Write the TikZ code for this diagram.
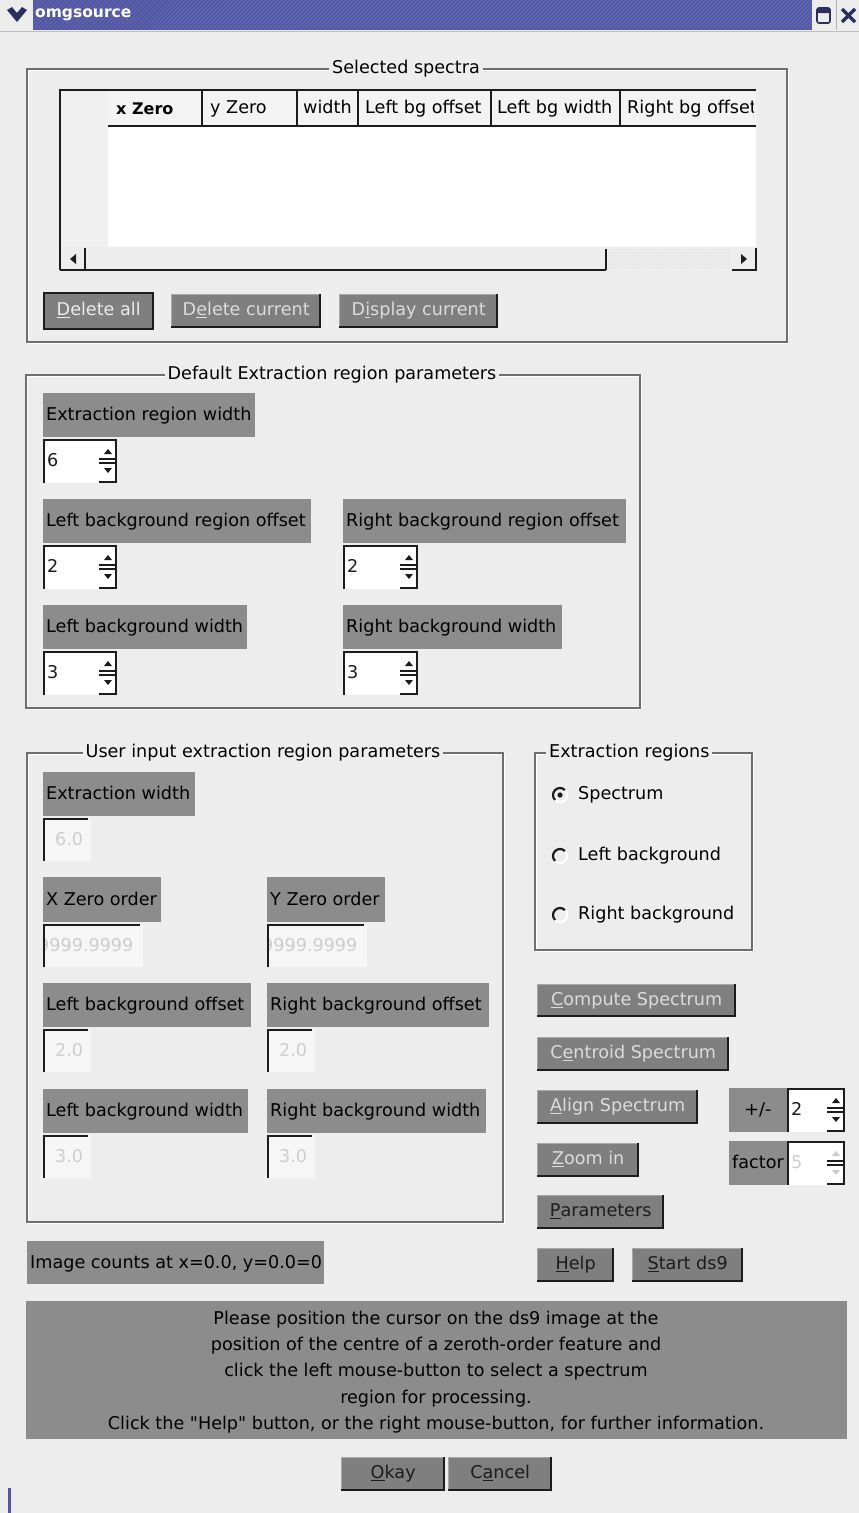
\documentclass[tikz,border=0pt]{standalone}
\usepackage{fontspec}
\setmainfont{DejaVu Sans}[Ligatures=TeXOff]
\usetikzlibrary{patterns}
\definecolor{bg}{HTML}{EDEDED}
\definecolor{lblgray}{HTML}{8C8C8C}
\definecolor{btngray}{HTML}{7F7F7F}
\definecolor{btnlight}{HTML}{A8A8A8}
\definecolor{framegray}{HTML}{6E6E6E}
\definecolor{titleblue}{HTML}{5257A4}
\definecolor{titlehatch}{HTML}{6A6FB6}
\definecolor{navy}{HTML}{2B2E5E}
\definecolor{tbside}{HTML}{ECECEC}
\definecolor{distxt}{HTML}{DCDCDC}
\definecolor{entryc}{HTML}{F6F6F6}
\definecolor{entrytxt}{HTML}{CDCDCD}
\definecolor{dark}{HTML}{1C1C1C}
\definecolor{hdrfill}{HTML}{F3F3F3}
\definecolor{rowhdr}{HTML}{F0F0F0}
\tikzset{
  lblbox/.style={fill=lblgray, inner sep=0pt, anchor=north west},
  btnbox/.style={fill=btngray, inner sep=0pt, anchor=north west, text height=13pt, text depth=4pt},
  txt/.style={inner sep=0pt, text height=13pt, text depth=4pt},
  framel/.style={draw=framegray, line width=1.3},
  frametitle/.style={fill=bg, inner xsep=3pt, inner ysep=0pt, text height=13pt, text depth=4pt},
}
\newcommand\mkLabel[6]{%
  \node[lblbox, minimum width={#4pt-#2pt}, minimum height={#5pt-#3pt}] (#1) at (#2,#3) {};
  \node[txt, anchor=west] (#1t) at ({#2+3},{(#3+#5)/2+1}) {#6};
}
\newcommand\mkBtn[7]{%
  \node[btnbox, minimum width={#4pt-#2pt}, minimum height={#5pt-#3pt}, text=#7] (#1) at (#2,#3) {#6};
  \draw[btnlight, line width=1.2] ({#2+0.6},{#5-1}) -- ({#2+0.6},{#3+0.6}) -- ({#4-1},{#3+0.6});
  \draw[dark, line width=2] ({#4-1},{#3}) -- ({#4-1},{#5-1}) -- ({#2},{#5-1});
}
\newcommand\mkSpin[8]{%
  \node[fill=white, inner sep=0pt, anchor=north west, minimum width={#4pt-#2pt}, minimum height={#5pt-#3pt}] (#1) at (#2,#3) {};
  \node[txt, anchor=west, text=#7] (#1v) at ({#2+4},{(#3+#5)/2+1}) {#6};
  \draw[dark, line width=2] ({#2+1},#5) -- ({#2+1},{#3+1}) -- (#4,{#3+1});
  \draw[dark, line width=1.6] ({#4-1},{#3+1}) -- ({#4-1},{#5-1}) -- ({#4-18},{#5-1});
  \draw[dark, line width=1.3] ({#4-18},{(#3+#5)/2-2}) -- ({#4-1},{(#3+#5)/2-2});
  \draw[dark, line width=1.3] ({#4-18},{(#3+#5)/2+2}) -- ({#4-1},{(#3+#5)/2+2});
  \fill[#8] ({#4-13},{(#3+#5)/2-7}) -- ({#4-5},{(#3+#5)/2-7}) -- ({#4-9},{(#3+#5)/2-12}) -- cycle;
  \fill[#8] ({#4-13},{(#3+#5)/2+7}) -- ({#4-5},{(#3+#5)/2+7}) -- ({#4-9},{(#3+#5)/2+12}) -- cycle;
}
\newcommand\mkEntry[7]{%
  \node[fill=entryc, inner sep=0pt, anchor=north west, minimum width={#4pt-#2pt}, minimum height={#5pt-#3pt}] (#1) at (#2,#3) {};
  \begin{scope}
    \clip (#2,#3) rectangle (#4,#5);
    \node[txt, anchor=west, text=entrytxt] (#1v) at (#7,{(#3+#5)/2+1}) {#6};
  \end{scope}
  \draw[dark, line width=2] ({#2+1},#5) -- ({#2+1},{#3+1}) -- ({#4-3},{#3+1});
}
\newcommand\mkFrame[8]{%
  \draw[white, line width=1] ({#2+1.3},{#3+1.3}) rectangle ({#4+1.3},{#5+1.3});
  \draw[framel] (#2,#3) rectangle (#4,#5);
  \node[frametitle, anchor=#8] (#1) at (#7,#3) {#6};
}
\newcommand\mkRadio[5]{%
  \coordinate (#1c) at (#2,#3);
  \draw[white, line width=2.2] ({#2-4.95},{#3+4.95}) arc[start angle=225, end angle=405, radius=7pt];
  \draw[dark, line width=2.2] ({#2+4.95},{#3-4.95}) arc[start angle=45, end angle=225, radius=7pt];
  \ifnum#5=1 \fill[dark] (#1c) circle[radius=2.6pt];\fi
  \node[txt, anchor=west] (#1) at ({#2+18},#3) {#4};
}
\begin{document}
\begin{tikzpicture}[x=1pt,y=-1pt,font=\fontsize{17.6}{26}\selectfont]
\useasboundingbox (0,0) rectangle (859,1513);
\fill[bg] (0,0) rectangle (859,1513);

% ---------- title bar
\fill[tbside] (0,0) rectangle (33,30);
\fill[titleblue] (33,0) rectangle (812,30);
\begin{scope}
  \clip (33,0) rectangle (812,30);
  \foreach \i in {0,4,...,840} \draw[titlehatch, line width=0.7] (\i,30) -- ({\i+30},0);
\end{scope}
\fill[tbside] (812,0) rectangle (859,30);
\draw[gray!60] (836,0) -- (836,30);
\draw[gray!50] (0,31) -- (859,31);
\fill[navy] (7,10) -- (12,7) -- (17,13) -- (22,7) -- (27,10) -- (17,22) -- cycle;
\node[anchor=west, text=white, inner sep=0pt, font=\bfseries\fontsize{15.5}{18}\selectfont] (ttl) at (35,15) {omgsource};
\draw[navy, line width=1.6, rounded corners=2] (817,8) rectangle (830,23);
\fill[navy, rounded corners=1] (817,8) rectangle (830,13);
\draw[navy, line width=3.2] (842,9) -- (855,22) (842,22) -- (855,9);

% ---------- Selected spectra
\mkFrame{fsel}{27}{69}{787}{342}{Selected spectra}{406}{center}
\fill[rowhdr] (59,89) rectangle (108,247);
\fill[hdrfill] (108,89) rectangle (756,126);
\fill[white] (108,126) rectangle (756,247);
\fill[bg] (59,247) rectangle (756,270);
\fill[pattern=dots, pattern color=gray!45] (606,248) rectangle (731,269);
\draw[dark, line width=2] (60,270) -- (60,90) -- (756,90);
\draw[dark, line width=1.8] (108,126) -- (756,126);
\foreach \sx in {202,297,358,491,620} \draw[dark, line width=1.8] (\sx,90) -- (\sx,126);
\node[txt, anchor=west, font=\bfseries\fontsize{16}{20}\selectfont] (hxz) at (116,110) {x Zero};
\node[txt, anchor=west] (hyz) at (210,109) {y Zero};
\node[txt, anchor=west] (hw) at (303,109) {width};
\node[txt, anchor=west] (hlbo) at (365,109) {Left bg offset};
\node[txt, anchor=west] (hlbw) at (497,109) {Left bg width};
\begin{scope}
  \clip (620,90) rectangle (753,126);
  \node[txt, anchor=west] (hrbo) at (627,109) {Right bg offset};
\end{scope}
% scrollbar
\draw[dark, line width=1.8] (85,248) -- (85,270);
\draw[dark, line width=1.8] (60,270) -- (606,270);
\draw[dark, line width=1.8] (606,249) -- (606,270);
\fill[dark] (70,259) -- (76,254) -- (76,264) -- cycle;
\draw[dark, line width=1.8] (732,270) -- (756,270) -- (756,248);
\fill[dark] (747,259) -- (741,254) -- (741,264) -- cycle;
% buttons
\mkBtn{bdelall}{43}{292}{154}{330}{\underline{D}elete all}{white!92!black}
\draw[dark, line width=2] (44,293) rectangle (153,329);
\mkBtn{bdelcur}{171}{294}{321}{328}{D\underline{e}lete current}{distxt}
\mkBtn{bdispcur}{339}{294}{498}{328}{D\underline{i}splay current}{distxt}

% ---------- Default extraction region parameters
\mkFrame{fdef}{26}{375}{640}{708}{Default Extraction region parameters}{332}{center}
\mkLabel{lerw}{43}{393}{255}{437}{Extraction region width}
\mkSpin{serw}{43}{439}{117}{483}{6}{dark}{dark}
\mkLabel{llbro}{43}{499}{311}{543}{Left background region offset}
\mkSpin{slbro}{43}{545}{117}{589}{2}{dark}{dark}
\mkLabel{lrbro}{343}{499}{626}{543}{Right background region offset}
\mkSpin{srbro}{343}{545}{418}{589}{2}{dark}{dark}
\mkLabel{llbw}{43}{605}{247}{649}{Left background width}
\mkSpin{slbw}{43}{651}{117}{695}{3}{dark}{dark}
\mkLabel{lrbw}{343}{605}{562}{649}{Right background width}
\mkSpin{srbw}{343}{651}{418}{695}{3}{dark}{dark}

% ---------- User input extraction region parameters
\mkFrame{fuser}{27}{753}{503}{1222}{User input extraction region parameters}{263}{center}
\mkLabel{lew}{43}{772}{195}{816}{Extraction width}
\mkEntry{eew}{43}{818}{91}{861}{6.0}{55}
\mkLabel{lxz}{43}{877}{161}{922}{X Zero order}
\mkEntry{exz}{43}{924}{143}{967}{9999.9999}{38}
\mkLabel{lyz}{267}{877}{385}{922}{Y Zero order}
\mkEntry{eyz}{267}{924}{367}{967}{9999.9999}{262}
\mkLabel{llbo}{43}{983}{251}{1027}{Left background offset}
\mkEntry{elbo}{43}{1029}{91}{1072}{2.0}{55}
\mkLabel{lrbo}{267}{983}{489}{1027}{Right background offset}
\mkEntry{erbo}{267}{1029}{315}{1072}{2.0}{279}
\mkLabel{llbw2}{43}{1089}{248}{1133}{Left background width}
\mkEntry{elbw}{43}{1135}{91}{1178}{3.0}{55}
\mkLabel{lrbw2}{267}{1089}{486}{1133}{Right background width}
\mkEntry{erbw}{267}{1135}{315}{1178}{3.0}{279}

% ---------- Extraction regions
\mkFrame{freg}{535}{753}{752}{950}{Extraction regions}{546}{west}
\mkRadio{rspec}{560}{795}{Spectrum}{1}
\mkRadio{rleft}{560}{856}{Left background}{0}
\mkRadio{rright}{560}{915}{Right background}{0}

% ---------- action buttons
\mkBtn{bcomp}{537}{984}{736}{1017}{\underline{C}ompute Spectrum}{distxt}
\mkBtn{bcent}{537}{1037}{729}{1071}{C\underline{e}ntroid Spectrum}{distxt}
\mkBtn{balign}{537}{1090}{698}{1124}{\underline{A}lign Spectrum}{distxt}
\mkBtn{bzoom}{537}{1143}{639}{1177}{\underline{Z}oom in}{distxt}
\mkBtn{bparam}{537}{1195}{664}{1229}{\underline{P}arameters}{dark}
\mkBtn{bhelp}{537}{1248}{614}{1282}{\underline{H}elp}{dark}
\mkBtn{bds9}{632}{1248}{743}{1282}{\underline{S}tart ds9}{dark}

\node[lblbox, minimum width=58pt, minimum height=44pt] (lpm) at (729,1088) {};
\node[txt] (lpmt) at (758,1111) {+/-};
\mkSpin{spm}{787}{1088}{845}{1132}{2}{dark}{dark}
\node[lblbox, minimum width=58pt, minimum height=44pt] (lfac) at (729,1141) {};
\node[txt] (lfact) at (758,1164) {factor};
\mkSpin{sfac}{787}{1141}{845}{1185}{5}{entrytxt}{entrytxt}

% ---------- status
\mkLabel{limg}{27}{1241}{324}{1284}{Image counts at x=0.0, y=0.0=0}
\node[fill=lblgray, inner sep=0pt, anchor=north west, minimum width=821pt, minimum height=138pt] (msgbox) at (26,1301) {};
\node[inner sep=0pt, align=center, font=\fontsize{17.6}{26.3}\selectfont] (msg) at (436,1372) {Please position the cursor on the ds9 image at the\\position of the centre of a zeroth-order feature and\\click the left mouse-button to select a spectrum\\region for processing.\\Click the "Help" button, or the right mouse-button, for further information.};

\mkBtn{bokay}{341}{1457}{445}{1491}{\underline{O}kay}{dark}
\mkBtn{bcancel}{448}{1457}{552}{1491}{C\underline{a}ncel}{dark}

\fill[titleblue] (8,1488) rectangle (11,1513);
\end{tikzpicture}
\end{document}
